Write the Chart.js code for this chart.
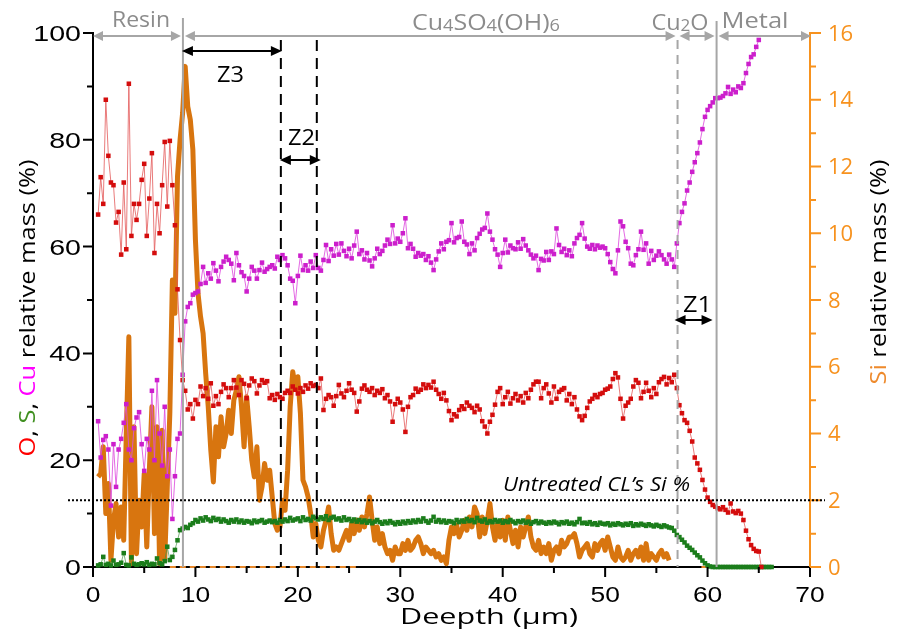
<!DOCTYPE html>
<html>
<head>
<meta charset="utf-8">
<title>Depth profile</title>
<script src="https://cdn.jsdelivr.net/npm/chart.js@4.4.1/dist/chart.umd.min.js"></script>
<style>
  html, body { margin: 0; padding: 0; background: #fff; }
  #wrap { width: 898px; height: 632px; }
</style>
</head>
<body>
<div id="wrap"><canvas id="profile" width="898" height="632"></canvas></div>
<script>
// sampling step of the depth profile (µm)
const STEP = 0.25;

const xTicks = [0, 10, 20, 30, 40, 50, 60, 70];
const massTicks = [0, 20, 40, 60, 80, 100];
const siTicks = [0, 2, 4, 6, 8, 10, 12, 14, 16];

// O relative mass (%), from 0.5 µm
const oStart = 0.5;
const oMass = [
  66, 73, 68, 87.5, 77, 72, 71.5, 64.5,
  66.5, 58.5, 72, 59.5, 90.5, 62, 68, 65,
  68, 72.5, 75.5, 62, 69, 77.5, 58.8, 68,
  62.5, 71.5, 79.6, 67.5, 79.8, 71.5, 64, 52,
  42.5, 35, 33, 29.5, 30.5, 27.8, 31.3, 30.5,
  33.8, 32, 33.5, 31.5, 34.4, 30.2, 32, 30.5,
  32.8, 34.2, 33.5, 31.8, 33.5, 35, 33.6, 32.2,
  35, 34.3, 31.6, 34, 35.3, 34.8, 32.5, 34,
  35, 34.5, 34.8, 31.6, 32.2, 31.3, 32.4, 31.8,
  31.5, 32.6, 33, 32.6, 33.8, 33.2, 32.5, 33.5,
  32.8, 34, 33.4, 34.4, 33.9, 34.1, 33.5, 35.3,
  29.4, 31.5, 32.2, 31.8, 30.2, 32, 34.1, 32.5,
  31.8, 33, 34.4, 33.2, 32.6, 29.1, 31, 33.4,
  34, 33.2, 32.8, 33.5, 32.2, 33, 32.6, 33.3,
  31.6, 32.2, 31, 27.2, 30.5, 31.5, 30.8, 29.5,
  25.3, 30, 31.8, 32.2, 33.4, 32.8, 33.2, 34.2,
  33.5, 34.1, 33.6, 34.7, 33.2, 32.4, 31.5, 32.6,
  31.2, 29.2, 27.5, 28.6, 28.2, 29.4, 30.1, 29.6,
  30.8, 30.2, 29.8, 29, 30.2, 29.5, 27.3, 26.3,
  25, 27.2, 28.5, 30.4, 32.8, 33.5, 30.5, 31.8,
  32.8, 30.6, 31.6, 32.4, 31.2, 32, 30.8, 32.6,
  31.6, 33.2, 34.2, 34.7, 34.7, 31.6, 33.5, 34.2,
  32.5, 30.8, 33.8, 31.5, 32.8, 33.2, 33.5, 31.2,
  32.4, 30.5, 31.8, 29.5, 28.2, 27.5, 28.3, 29.8,
  31, 31.5, 32.2, 31.8, 32.4, 32.6, 33.2, 33.4,
  33.8, 35.2, 36.3, 35.5, 31.5, 27.8, 30.2, 30.8,
  31.5, 33.8, 35, 34.5, 31.6, 32.8, 34.5, 33,
  31.8, 33.5, 32.4, 34.6, 35.2, 35.6, 34.2, 35.4,
  34.6, 36, 33.5, 30.3, 28.8, 27.5, 27, 25.5,
  23.5, 20.5, 19.4, 18.2, 16.3, 14.5, 13, 12.2,
  11.6, 11.3, 11, 10.8, 11.2, 10.7, 10.2, 11.9,
  10.4, 10.1, 10.5, 10, 8.8, 6.8, 5.2, 4.1,
  3.4, 3.0, 2.9, 0
];

// Cu relative mass (%), from 0.5 µm
const cuStart = 0.5;
const cuMass = [
  27.3, 20.5, 23.8, 24.5, 22, 11.5, 23, 15,
  22, 24, 27, 30.5, 22, 20, 26, 28,
  29, 23, 18, 24, 22, 33, 20, 35,
  25, 19, 30, 17, 22, 9, 17, 24,
  25, 36, 46, 48.7, 49.4, 51, 51.3, 51.6,
  53, 56.2, 53.2, 55, 54, 56.9, 55.5, 53.5,
  56.2, 57.2, 58.1, 57.5, 56.8, 53.7, 58.8, 56.5,
  55.2, 54.5, 51.6, 54, 56.2, 55.5, 54, 55.6,
  57, 55.3, 55.8, 56.2, 56.5, 55.9, 58.1, 57.5,
  58.4, 57.8, 56.5, 54, 53.6, 49.4, 54.5, 58.3,
  55.6, 56.5, 55.5, 57.2, 56, 58.4, 56, 55.5,
  57.5, 60.3, 57.3, 59.5, 58.3, 60.5, 58.5, 60.6,
  59.2, 58.2, 59.6, 57.8, 60.2, 62.8, 58.6, 59.3,
  57.6, 58.8, 57.4, 56.3, 57.8, 59.6, 58.6, 59.2,
  60.2, 61.3, 60.5, 64, 60.6, 61.5, 60.9, 62.5,
  65.3, 59.7, 60.5, 59.6, 58.1, 58.8, 58.3, 58.6,
  57.5, 58.2, 57, 55.6, 57.6, 59.1, 60.6, 59.5,
  60.9, 61.2, 64.4, 60.8, 61.6, 61.8, 64.7, 60.9,
  60.4, 58.6, 60.6, 59.3, 61.6, 62.4, 63.2, 63.5,
  66.2, 62.8, 61.3, 59.5, 58.5, 56.2, 58.8, 61.3,
  58.9, 60.2, 59.7, 59.5, 60.8, 59.6, 61.4, 60.2,
  59.3, 58.5, 57.8, 58.3, 55.6, 57.7, 57.4, 59,
  57.5, 59.1, 58.6, 63.4, 60.3, 59, 59.6, 58.4,
  59.3, 58.2, 60.6, 61.6, 62.2, 64.4, 61.5, 60,
  59.6, 60.3, 59.5, 60.2, 59.8, 60, 59.7, 58.6,
  57.1, 55.8, 55, 59.3, 64.7, 63.8, 60.9, 59.7,
  56.8, 56.5, 58.4, 59.5, 62.8, 59.4, 60.6, 56.8,
  59.2, 57.5, 58.3, 59.1, 58.4, 57.6, 56.8, 58.5,
  57.6, 56.2, 60.6, 64.4, 66.5, 68.1, 70.5, 72,
  74, 75.8, 77.5, 79.5, 82, 84.3, 85.6, 86.3,
  87, 87.8, 87.8, 87.9, 88.2, 88.7, 89.9, 88.6,
  89.4, 88.9, 90, 89.7, 90.6, 92.5, 94.2, 95.5,
  96, 97.4, 98.7
];

// S relative mass (%), from 0.5 µm
const sStart = 0.5;
const sMass = [
  0.3, 0.5, 1.9, 0.4, 0.6, 0.3, 1.2, 0.4,
  0.5, 0.8, 2.6, 0.4, 0.3, 1.8, 0.6, 0.4,
  0.5, 0.7, 0.5, 0.9, 0.4, 0.6, 0.5, 1.6,
  0.7, 0.5, 1.1, 3.8, 1.3, 1.9, 3.2, 5.0,
  6.9, 7.2, 7.5, 7.3, 7.9, 8.2, 8.8, 8.5,
  9.1, 8.7, 9.3, 8.9, 8.6, 9.2, 8.8, 9.0,
  8.5, 8.9, 8.6, 8.3, 8.8, 8.5, 8.9, 8.4,
  8.7, 8.3, 8.6, 8.5, 8.2, 8.7, 8.4, 8.6,
  8.8, 8.3, 8.5, 8.7, 8.4, 8.6, 8.3, 8.8,
  8.5, 8.9, 8.6, 9.2, 8.7, 8.9, 9.1, 8.6,
  9.3, 8.8, 9.0, 8.7, 9.4, 9.1, 8.9, 9.3,
  9.0, 9.5, 8.8, 9.2, 9.4, 8.9, 9.1, 8.7,
  9.3, 8.8, 9.0, 8.6, 8.9, 8.5, 8.8, 8.4,
  8.7, 8.3, 8.6, 8.2, 8.5, 8.8, 8.4, 8.1,
  8.5, 8.2, 8.6, 8.3, 8.0, 8.4, 8.1, 8.5,
  8.2, 8.6, 8.3, 8.7, 8.4, 8.8, 8.5, 9.1,
  8.6, 8.3, 8.7, 9.4, 8.5, 8.8, 8.4, 8.7,
  8.3, 8.6, 8.5, 8.2, 8.8, 8.4, 8.7, 8.5,
  9.0, 8.6, 8.8, 8.4, 9.2, 8.7, 8.5, 8.9,
  8.3, 8.6, 8.4, 8.8, 8.5, 8.7, 8.3, 8.6,
  8.4, 8.8, 8.5, 8.2, 8.6, 8.4, 8.7, 8.3,
  8.5, 8.1, 8.4, 8.6, 8.2, 8.5, 8.3, 8.1,
  8.4, 8.2, 8.5, 8.3, 8.0, 8.4, 8.2, 8.5,
  8.1, 8.3, 8.0, 8.4, 9.0, 8.2, 8.3, 8.1,
  8.4, 8.0, 8.2, 7.9, 8.3, 8.1, 8.0, 8.2,
  7.8, 8.1, 7.9, 8.2, 8.0, 7.8, 8.1, 7.9,
  8.2, 7.7, 8.0, 7.8, 8.1, 7.9, 7.7, 8.0,
  7.8, 7.6, 7.9, 7.7, 7.5, 7.8, 7.6, 7.4,
  7.3, 6.8, 6.0, 5.6, 5.1, 4.6, 4.0, 3.6,
  3.2, 2.7, 2.2, 1.8, 1.2, 0.7, 0.3, 0.1,
  0, 0, 0, 0, 0, 0, 0, 0,
  0, 0, 0, 0, 0, 0, 0, 0,
  0, 0, 0, 0, 0, 0, 0, 0
];

// Si relative mass (%), right axis, from 0.5 µm
const siStart = 0.5;
const siMass = [
  2.7, 2.8, 3.6, 1.6, 2.5, 0.2, 1.4, 1.9,
  0.9, 1.8, 0.8, 4.0, 6.9, 0.1, 4.2, 0.4,
  2.0, 1.2, 2.8, 0.6, 2.9, 4.8, 1.0, 4.2,
  0.1, 4.1, 0.2, 2.4, 4.6, 8.6, 7.6, 11.7,
  12.8, 13.6, 15.0, 13.8, 13.4, 12.5, 9.8, 8.2,
  7.5, 7.0, 5.8, 4.8, 3.5, 2.55, 4.2, 3.3,
  4.5, 3.6, 4.0, 4.7, 4.0, 5.0, 5.3, 5.7,
  4.8, 3.6, 5.1, 4.2, 3.2, 2.7, 3.6, 2.0,
  2.4, 3.1, 2.6, 2.9, 2.1, 1.3, 1.1, 1.2,
  2.0, 1.7, 2.9, 4.8, 5.85, 5.4, 5.7, 4.6,
  2.6, 2.4, 2.1, 1.6, 0.9, 1.3, 0.8, 0.6,
  1.1, 1.4, 1.8, 1.0, 0.5, 0.6, 0.5, 0.7,
  0.9, 1.1, 0.8, 1.3, 1.0, 1.4, 1.1, 1.5,
  1.2, 1.6, 2.1, 1.4, 0.8, 1.2, 0.7, 1.0,
  0.6, 0.4, 0.5, 0.2, 0.6, 0.4, 0.4, 0.7,
  0.5, 0.8, 0.5, 0.6, 0.8, 0.9, 0.7, 0.4,
  0.6, 0.5, 0.4, 0.5, 0.3, 0.4, 0.2, 0.3,
  0.1, 0.8, 1.2, 1.0, 1.26, 0.9, 1.1, 1.4,
  1.1, 1.5, 1.2, 1.8, 1.6, 0.9, 1.5, 1.0,
  1.4, 1.9, 1.2, 0.8, 1.3, 0.9, 1.4, 0.8,
  1.5, 1.1, 0.7, 1.1, 0.6, 1.2, 0.9, 1.2,
  1.5, 0.9, 0.6, 0.5, 0.8, 0.4, 0.6, 0.4,
  0.7, 0.2, 0.5, 0.6, 0.4, 0.8, 0.6, 0.7,
  0.9, 0.9, 1.0, 0.7, 0.3, 0.5, 0.6, 0.7,
  0.4, 0.3, 0.7, 0.5, 0.7, 0.8, 0.5, 0.9,
  0.6, 0.3, 0.2, 0.6, 0.3, 0.2, 0.3, 0.5,
  0.2, 0.4, 0.5, 0.3, 0.6, 0.2, 0.7, 0.2,
  0.4, 0.3, 0.2, 0.4, 0.5, 0.3, 0.4, 0.2
];

// depth ranges where Si reads zero
const siZeroRuns = [[7.5, 25.8], [59.4, 66.2]];

// Si level of the untreated layer (right axis)
const untreatedSi = 2;

// layer boundaries (µm)
const layerBounds = [0, 8.78, 57.07, 60.88, 70];
const zoneLines = [8.78, 18.34, 21.85, 57.07, 60.88];

const ORANGE_AXIS = '#f7921e';
const GREY = '#a6a6a6';
const SANS = '"Open Sans", "Noto Sans", sans-serif';
const ARIAL = '"Liberation Sans", Arial, sans-serif';

function toPoints(start, values) {
  return values.map((v, i) => ({ x: Math.round((start + i * STEP) * 100) / 100, y: v }));
}

function zeroRuns(runs) {
  const pts = [];
  runs.forEach(([a, b], i) => {
    if (i) pts.push({ x: (pts[pts.length - 1].x + a) / 2, y: null });
    pts.push({ x: a, y: 0 }, { x: b, y: 0 });
  });
  return pts;
}

function fontOf(p) {
  return `${p.style || 'normal'} ${p.weight || 400} ${p.size}px ${p.family || SANS}`;
}

// draws a run of differently styled pieces on one baseline
function rich(ctx, parts, x, y, opt = {}) {
  ctx.save();
  let w = 0;
  const widths = parts.map(p => {
    ctx.font = fontOf(p);
    const m = ctx.measureText(p.t).width;
    w += m;
    return m;
  });
  const sx = opt.width ? opt.width / w : (opt.sx || 1);
  ctx.translate(x, y);
  if (opt.rotate) ctx.rotate(opt.rotate);
  ctx.scale(sx, opt.sy || 1);
  let cx = opt.align === 'left' ? 0 : opt.align === 'right' ? -w : -w / 2;
  ctx.textAlign = 'left';
  ctx.textBaseline = 'alphabetic';
  parts.forEach((p, i) => {
    ctx.font = fontOf(p);
    ctx.fillStyle = p.color || '#000';
    ctx.fillText(p.t, cx, p.dy || 0);
    cx += widths[i];
  });
  ctx.restore();
}

function head(ctx, tipX, y, dir, len, half) {
  ctx.beginPath();
  ctx.moveTo(tipX, y);
  ctx.lineTo(tipX - dir * len, y - half);
  ctx.lineTo(tipX - dir * len, y + half);
  ctx.closePath();
  ctx.fill();
}

function doubleArrow(ctx, x1, x2, y, color, len, half) {
  ctx.save();
  ctx.strokeStyle = color;
  ctx.fillStyle = color;
  ctx.lineWidth = 2;
  ctx.beginPath();
  ctx.moveTo(x1 + len - 1, y);
  ctx.lineTo(x2 - len + 1, y);
  ctx.stroke();
  head(ctx, x1, y, -1, len, half);
  head(ctx, x2, y, 1, len, half);
  ctx.restore();
}

function vline(ctx, x, top, bottom, color, dash) {
  ctx.save();
  ctx.strokeStyle = color;
  ctx.lineWidth = 2;
  ctx.setLineDash(dash || []);
  ctx.beginPath();
  ctx.moveTo(x, top);
  ctx.lineTo(x, bottom);
  ctx.stroke();
  ctx.restore();
}

function mids(ticks) {
  const out = [];
  for (let i = 1; i < ticks.length; i++) out.push((ticks[i - 1] + ticks[i]) / 2);
  return out;
}

const decor = {
  id: 'decor',
  afterDatasetsDraw(chart) {
    const { ctx, chartArea: a, scales } = chart;
    const X = v => scales.x.getPixelForValue(v);
    const Y = v => scales.y.getPixelForValue(v);
    const S = v => scales.y2.getPixelForValue(v);

    ctx.save();
    ctx.lineWidth = 2;

    // tick marks
    ctx.strokeStyle = '#000';
    ctx.beginPath();
    massTicks.forEach(v => { ctx.moveTo(a.left, Y(v)); ctx.lineTo(a.left - 10, Y(v)); });
    mids(massTicks).forEach(v => { ctx.moveTo(a.left, Y(v)); ctx.lineTo(a.left - 6, Y(v)); });
    xTicks.forEach(v => { ctx.moveTo(X(v), a.bottom); ctx.lineTo(X(v), a.bottom + 10); });
    mids(xTicks).forEach(v => { ctx.moveTo(X(v), a.bottom); ctx.lineTo(X(v), a.bottom + 6); });
    ctx.stroke();
    ctx.strokeStyle = ORANGE_AXIS;
    ctx.beginPath();
    siTicks.forEach(v => { ctx.moveTo(a.right, S(v)); ctx.lineTo(a.right + 11, S(v)); });
    mids(siTicks).forEach(v => { ctx.moveTo(a.right, S(v)); ctx.lineTo(a.right + 6, S(v)); });
    ctx.stroke();
    ctx.restore();

    // tick labels
    massTicks.forEach(v => rich(ctx, [{ t: String(v), size: 22, family: ARIAL }], a.left - 12, Y(v) + 8, { align: 'right', sx: 1.3 }));
    xTicks.forEach(v => rich(ctx, [{ t: String(v), size: 22, family: ARIAL }], X(v), a.bottom + 35, { sx: 1.2 }));
    siTicks.forEach(v => rich(ctx, [{ t: String(v), size: 21, color: ORANGE_AXIS }], a.right + 18, S(v) + 7.5, { align: 'left', sx: 1.05 }));

    // axis titles
    rich(ctx, [{ t: 'Deepth (µm)', size: 22 }], 489, 624, { width: 178 });
    rich(ctx, [
      { t: 'O', size: 22, color: '#ff0000' },
      { t: ', ', size: 22 },
      { t: 'S', size: 22, color: '#3f8f1f' },
      { t: ', ', size: 22 },
      { t: 'Cu', size: 22, color: '#ff00ff' },
      { t: ' relative mass (%)', size: 22 }
    ], 35, 308, { width: 297, rotate: -Math.PI / 2 });
    rich(ctx, [
      { t: 'Si', size: 22, color: '#ee8a2c' },
      { t: ' relative mass (%)', size: 22 }
    ], 886, 272, { width: 225, rotate: -Math.PI / 2 });

    // layer and zone boundaries
    vline(ctx, X(zoneLines[0]), 18, a.bottom, GREY);
    vline(ctx, X(zoneLines[1]), 40, a.bottom, '#000', [11, 7]);
    vline(ctx, X(zoneLines[2]), 40, a.bottom, '#000', [11, 7]);
    vline(ctx, X(zoneLines[3]), 40, a.bottom, GREY, [9, 6]);
    vline(ctx, X(zoneLines[4]), 21, a.bottom, GREY);

    // layer spans along the top
    const gy = 36;
    for (let i = 0; i < layerBounds.length - 1; i++) {
      const x1 = X(layerBounds[i]) + (i ? 2 : 0);
      const x2 = X(layerBounds[i + 1]) - (i < layerBounds.length - 2 ? 2 : -1);
      doubleArrow(ctx, x1, x2, gy, GREY, 10, 5);
    }
    const grey = '#8c8c8c';
    rich(ctx, [{ t: 'Resin', size: 22, color: grey }], 141, 27, { width: 58 });
    rich(ctx, [
      { t: 'Cu', size: 22, color: grey }, { t: '4', size: 16, color: grey, dy: 1 },
      { t: 'SO', size: 22, color: grey }, { t: '4', size: 16, color: grey, dy: 1 },
      { t: '(OH)', size: 22, color: grey }, { t: '6', size: 16, color: grey, dy: 1 }
    ], 486, 30, { width: 148 });
    rich(ctx, [
      { t: 'Cu', size: 22, color: grey }, { t: '2', size: 16, color: grey, dy: 1 },
      { t: 'O', size: 22, color: grey }
    ], 680, 30, { width: 57 });
    rich(ctx, [{ t: 'Metal', size: 22, color: grey }], 755, 28, { width: 67 });

    // zones
    doubleArrow(ctx, X(zoneLines[0]) - 1, X(zoneLines[1]) + 1, 51, '#000', 11, 5);
    doubleArrow(ctx, X(zoneLines[1]) - 1, X(zoneLines[2]) + 4, 160, '#000', 11, 5);
    doubleArrow(ctx, X(zoneLines[3]) - 3, X(zoneLines[4]) - 4, 320, '#000', 11, 5);
    rich(ctx, [{ t: 'Z3', size: 22 }], 230.5, 82, { width: 27 });
    rich(ctx, [{ t: 'Z2', size: 22 }], 301.5, 145, { width: 27 });
    rich(ctx, [{ t: 'Z1', size: 22 }], 697.5, 312, { width: 29 });

    // untreated Si reference level
    ctx.save();
    ctx.strokeStyle = '#000';
    ctx.lineWidth = 2;
    ctx.setLineDash([2, 2]);
    ctx.beginPath();
    ctx.moveTo(68, S(untreatedSi));
    ctx.lineTo(825, S(untreatedSi));
    ctx.stroke();
    ctx.restore();
    rich(ctx, [{ t: 'Untreated CL\u2019s Si %', size: 20, style: 'italic' }], 596.5, 491, { width: 187 });
  }
};

const markerSeries = (label, start, values, dot, line) => ({
  label,
  data: toPoints(start, values),
  yAxisID: 'y',
  borderColor: line,
  borderWidth: 1,
  pointStyle: 'rect',
  pointRadius: 3.2,
  pointBorderWidth: 0,
  pointBackgroundColor: dot,
  clip: 6
});

new Chart(document.getElementById('profile'), {
  type: 'line',
  data: {
    datasets: [
      markerSeries('O', oStart, oMass, '#d40d0d', 'rgba(228,90,90,0.8)'),
      markerSeries('Cu', cuStart, cuMass, '#cc1fcc', 'rgba(222,80,222,0.85)'),
      markerSeries('S', sStart, sMass, '#1b7d1b', 'rgba(70,150,70,0.7)'),
      {
        label: 'Si',
        data: toPoints(siStart, siMass),
        yAxisID: 'y2',
        borderColor: '#d8750f',
        borderWidth: 5,
        borderJoinStyle: 'round',
        pointRadius: 0,
        clip: 6
      },
      {
        label: 'Si zero',
        data: zeroRuns(siZeroRuns),
        yAxisID: 'y2',
        borderColor: '#e8892c',
        borderWidth: 2,
        borderDash: [6, 4],
        pointRadius: 0,
        clip: 6
      }
    ]
  },
  options: {
    responsive: false,
    animation: false,
    devicePixelRatio: 1,
    layout: { padding: { top: 33, left: 0, right: 0, bottom: 0 } },
    plugins: { legend: { display: false }, tooltip: { enabled: false } },
    scales: {
      x: {
        type: 'linear', position: 'bottom', min: 0, max: 70,
        grid: { display: false, drawTicks: false },
        border: { color: '#000', width: 2 },
        ticks: { display: false },
        afterFit: s => { s.height = 65; }
      },
      y: {
        type: 'linear', position: 'left', min: 0, max: 100,
        grid: { display: false, drawTicks: false },
        border: { color: '#000', width: 2 },
        ticks: { display: false },
        afterFit: s => { s.width = 93; }
      },
      y2: {
        type: 'linear', position: 'right', min: 0, max: 16,
        grid: { display: false, drawTicks: false },
        border: { color: ORANGE_AXIS, width: 2 },
        ticks: { display: false },
        afterFit: s => { s.width = 88; }
      }
    }
  },
  plugins: [decor]
});
</script>
</body>
</html>
